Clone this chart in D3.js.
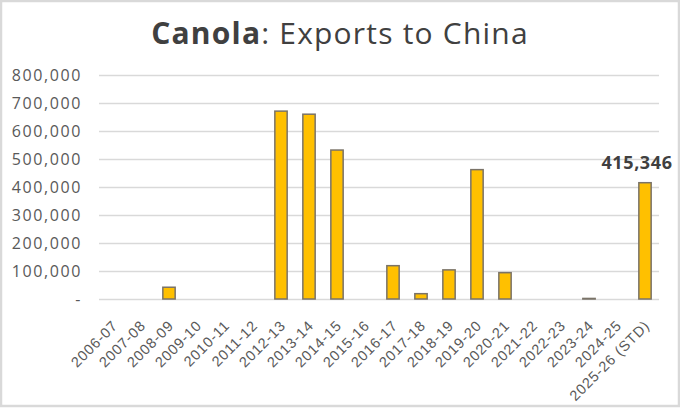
<!DOCTYPE html>
<html><head><meta charset="utf-8">
<script src="https://cdn.jsdelivr.net/npm/d3@7"></script>
<style>
html,body{margin:0;padding:0;background:#fff;}
svg{display:block;font-family:"Open Sans","DejaVu Sans",sans-serif;}
</style></head>
<body>
<svg id="c" width="680" height="409"></svg>
<script>
const categories = ["2006-07","2007-08","2008-09","2009-10","2010-11","2011-12","2012-13","2013-14","2014-15","2015-16","2016-17","2017-18","2018-19","2019-20","2020-21","2021-22","2022-23","2023-24","2024-25","2025-26 (STD)"];
const exportsTonnes = [0,0,42000,0,0,0,671000,660000,532000,0,119000,19000,104000,462000,94000,0,0,2000,0,415346];
const yTicks = [0,100000,200000,300000,400000,500000,600000,700000,800000];
const labelIndex = 19;

const svg = d3.select("#c");
const W = 680, H = 409;
svg.append("rect").attr("x",1).attr("y",1).attr("width",W-2).attr("height",H-4)
  .attr("fill","#fff").attr("stroke","#d9d9d9").attr("stroke-width",2.5);

const m = {left:99, right:21, top:75, bottom:110};
const x = d3.scaleBand().domain(categories).range([m.left, W-m.right]).paddingInner(0.56).paddingOuter(0.28);
const y = d3.scaleLinear().domain([0,800000]).range([H-m.bottom, m.top]);

// title
const t = svg.append("text").attr("x",W/2).attr("y",44).attr("text-anchor","middle")
  .attr("fill","#404040").attr("font-size",30).attr("letter-spacing",1.2);
t.append("tspan").attr("font-weight","bold").text("Canola");
t.append("tspan").text(": Exports to China");

// grid
const fmt = d => d===0 ? "-" : d3.format(",")(d);
const yAxis = d3.axisLeft(y).tickValues(yTicks).tickSize(-(W-m.left-m.right)).tickFormat(fmt).tickPadding(17);
const ga = svg.append("g").attr("transform",`translate(${m.left},0)`).call(yAxis);
ga.select(".domain").remove();
ga.selectAll(".tick line").attr("stroke","#d9d9d9").attr("stroke-width",1.5);
ga.selectAll(".tick text").attr("fill","#595959").attr("font-size",16).attr("letter-spacing",1.6)
  .attr("font-family","'Open Sans',sans-serif");

// bars
svg.append("g").selectAll("rect").data(categories).join("rect")
  .attr("x", d => x(d))
  .attr("width", x.bandwidth())
  .attr("y", (d,i) => y(exportsTonnes[i]))
  .attr("height", (d,i) => y(0)-y(exportsTonnes[i]))
  .attr("fill","#FFC000").attr("stroke","#7a7368").attr("stroke-width",1.5);

// x axis
const xAxis = d3.axisBottom(x).tickSize(0).tickPadding(0);
const gx = svg.append("g").attr("transform",`translate(0,${y(0)})`).call(xAxis);
gx.select(".domain").remove();
gx.selectAll(".tick text").attr("fill","#595959").attr("font-size",14.5).attr("letter-spacing",0.8)
  .attr("text-anchor","end").attr("x",0).attr("y",0).attr("dx",0).attr("dy","0.35em")
  .attr("transform","translate(2,24) rotate(-45)");

// data label
const li = labelIndex;
svg.append("text").attr("x", x(categories[li]) + x.bandwidth()/2 - 8)
  .attr("y", y(exportsTonnes[li]) - 14).attr("text-anchor","middle")
  .attr("font-weight","bold").attr("font-size",18).attr("letter-spacing",0.6).attr("fill","#404040")
  .text(d3.format(",")(exportsTonnes[li]));
</script>
</body></html>
